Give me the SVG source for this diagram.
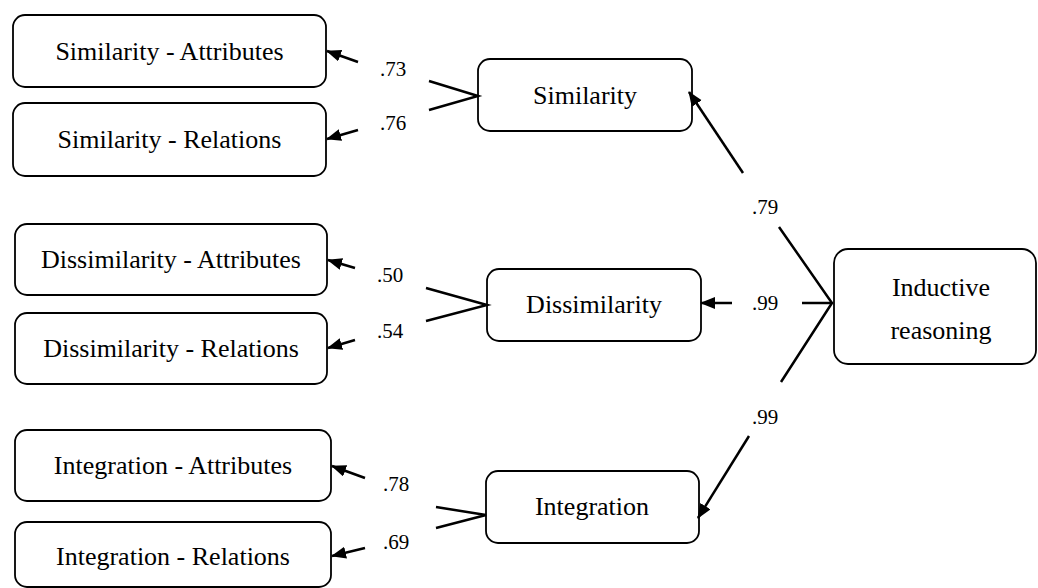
<svg xmlns="http://www.w3.org/2000/svg" width="1038" height="588" viewBox="0 0 1038 588">
<style>
.box{fill:#fff;stroke:#000;stroke-width:1.8}
.t{font-family:"Liberation Serif","DejaVu Serif",serif;font-size:26px;fill:#000;text-anchor:middle}
.lbl{font-family:"Liberation Serif","DejaVu Serif",serif;font-size:21px;fill:#000}
.ln{stroke:#000;stroke-width:2.5;fill:none}
.ar{stroke:#000;stroke-width:2.5;fill:none;marker-end:url(#ah)}
</style>
<defs>
<marker id="ah" markerUnits="userSpaceOnUse" markerWidth="16" markerHeight="14" refX="14" refY="6" orient="auto">
<path d="M0,0 L15,6 L0,12 z" fill="#000"/>
</marker>
</defs>
<rect width="1038" height="588" fill="#fff"/>
<g id="n-sim-attr"><rect class="box" x="13" y="15" width="313" height="72" rx="12"/><text class="t" x="169.5" y="60">Similarity - Attributes</text></g>
<g id="n-sim-rel"><rect class="box" x="13" y="103" width="313" height="73" rx="12"/><text class="t" x="169.5" y="148">Similarity - Relations</text></g>
<g id="n-dis-attr"><rect class="box" x="15" y="224" width="312" height="71" rx="12"/><text class="t" x="171" y="268">Dissimilarity - Attributes</text></g>
<g id="n-dis-rel"><rect class="box" x="15" y="313" width="312" height="71" rx="12"/><text class="t" x="171" y="357">Dissimilarity - Relations</text></g>
<g id="n-int-attr"><rect class="box" x="15" y="430" width="316" height="71" rx="12"/><text class="t" x="173" y="474">Integration - Attributes</text></g>
<g id="n-int-rel"><rect class="box" x="15" y="522" width="316" height="65" rx="12"/><text class="t" x="173" y="565">Integration - Relations</text></g>
<g id="n-sim"><rect class="box" x="478" y="59" width="214" height="72" rx="12"/><text class="t" x="585" y="104">Similarity</text></g>
<g id="n-dis"><rect class="box" x="487" y="269" width="214" height="72" rx="12"/><text class="t" x="594" y="313">Dissimilarity</text></g>
<g id="n-int"><rect class="box" x="486" y="471" width="213" height="72" rx="12"/><text class="t" x="592" y="515">Integration</text></g>
<g id="n-ind"><rect class="box" x="834" y="249" width="202" height="115" rx="14"/><text class="t" x="941" y="296">Inductive</text><text class="t" x="941" y="339">reasoning</text></g>
<g id="connectors">
<line class="ar" x1="358" y1="62" x2="327" y2="51"/>
<line class="ar" x1="358" y1="130" x2="327" y2="139"/>
<polyline class="ln" points="429,81 478,96 429,110"/>
<line class="ar" x1="355" y1="268" x2="328" y2="260"/>
<line class="ar" x1="355" y1="340" x2="328" y2="348"/>
<polyline class="ln" points="426,288 487,305 426,321"/>
<line class="ar" x1="365" y1="478" x2="332" y2="466"/>
<line class="ar" x1="365" y1="548" x2="332" y2="556"/>
<polyline class="ln" points="436,507 486,515 436,528"/>
<polyline class="ln" points="779,227 832,303 781,382"/>
<line class="ln" x1="802" y1="303" x2="832" y2="303"/>
<line class="ar" x1="743" y1="173" x2="689" y2="92"/>
<line class="ar" x1="732" y1="303" x2="701" y2="303"/>
<line class="ar" x1="749" y1="436" x2="698" y2="518"/>
</g>
<g id="labels">
<text class="lbl" x="380" y="76">.73</text>
<text class="lbl" x="380" y="130">.76</text>
<text class="lbl" x="377" y="282">.50</text>
<text class="lbl" x="377" y="338">.54</text>
<text class="lbl" x="383" y="491">.78</text>
<text class="lbl" x="383" y="549">.69</text>
<text class="lbl" x="752" y="214">.79</text>
<text class="lbl" x="752" y="310">.99</text>
<text class="lbl" x="752" y="424">.99</text>
</g>
</svg>
